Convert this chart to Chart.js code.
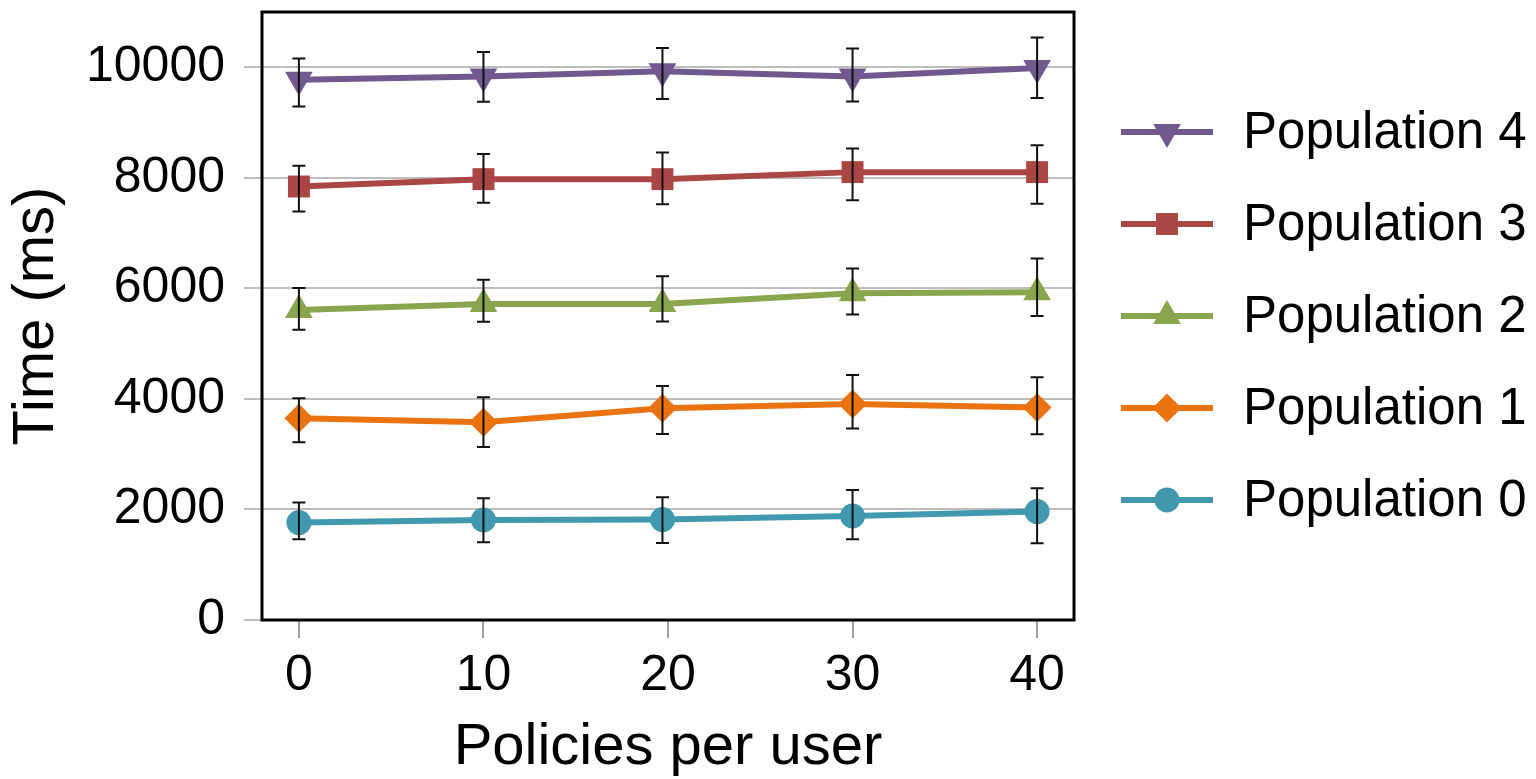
<!DOCTYPE html>
<html>
<head>
<meta charset="utf-8">
<script src="https://cdn.jsdelivr.net/npm/chart.js@4/dist/chart.umd.min.js"></script>
<style>
  html, body { margin: 0; padding: 0; background: #ffffff; }
  #c { display: block; }
</style>
</head>
<body>
<canvas id="c" width="1536" height="779"></canvas>
<script>
// ---- data ----
const policies = [0, 10, 19.7, 30, 40];
const xTickValues = [0, 10, 20, 30, 40];
const yTickValues = [0, 2000, 4000, 6000, 8000, 10000];
const seriesNames = ['Population 0', 'Population 1', 'Population 2', 'Population 3', 'Population 4'];

const pop0 = [1762, 1810, 1816, 1882, 1961];
const pop0Hi = [2124, 2202, 2220, 2353, 2384];
const pop0Lo = [1460, 1406, 1394, 1460, 1388];

const pop1 = [3650, 3578, 3831, 3910, 3843];
const pop1Hi = [4012, 4030, 4235, 4434, 4392];
const pop1Lo = [3216, 3131, 3366, 3463, 3361];

const pop2 = [5610, 5719, 5719, 5913, 5930];
const pop2Hi = [6005, 6154, 6221, 6359, 6540];
const pop2Lo = [5249, 5394, 5400, 5526, 5502];

const pop3 = [7843, 7976, 7976, 8103, 8103];
const pop3Hi = [8217, 8429, 8458, 8530, 8591];
const pop3Lo = [7390, 7548, 7524, 7596, 7529];

const pop4 = [9774, 9834, 9928, 9834, 9985];
const pop4Hi = [10159, 10275, 10347, 10341, 10539];
const pop4Lo = [9291, 9376, 9424, 9382, 9442];

// ---- styles ----
const colors = ['#4198AF', '#EA7210', '#89A54E', '#AA4643', '#71588F'];
const styles = [
  { pointStyle: 'circle', radius: 12.5, rotation: 0 },
  { pointStyle: 'rectRot', radius: 14.5, rotation: 0 },
  { pointStyle: 'triangle', radius: 16, rotation: 0 },
  { pointStyle: 'rect', radius: 15.5, rotation: 0 },
  { pointStyle: 'triangle', radius: 16, rotation: 180 }
];
const means = [pop0, pop1, pop2, pop3, pop4];
const highs = [pop0Hi, pop1Hi, pop2Hi, pop3Hi, pop4Hi];
const lows = [pop0Lo, pop1Lo, pop2Lo, pop3Lo, pop4Lo];

const FONT = 'Arial, "Liberation Sans", Helvetica, sans-serif';

const datasets = means.map((vals, k) => ({
  label: seriesNames[k],
  data: vals.map((v, i) => ({ x: policies[i], y: v })),
  borderColor: colors[k],
  backgroundColor: colors[k],
  borderWidth: 6,
  tension: 0,
  pointStyle: styles[k].pointStyle,
  pointRadius: styles[k].radius,
  pointRotation: styles[k].rotation,
  pointBackgroundColor: colors[k],
  pointBorderColor: colors[k],
  pointBorderWidth: 0,
  pointHoverRadius: styles[k].radius,
  fill: false,
  clip: false
}));

const errorBars = {
  id: 'errorBars',
  afterDatasetsDraw(chart) {
    const ctx = chart.ctx;
    const xs = chart.scales.x, ys = chart.scales.y;
    ctx.save();
    ctx.strokeStyle = '#111111';
    ctx.lineWidth = 2;
    const cap = 6.5;
    means.forEach((vals, k) => {
      vals.forEach((v, i) => {
        const px = xs.getPixelForValue(policies[i]);
        const pHi = ys.getPixelForValue(highs[k][i]);
        const pLo = ys.getPixelForValue(lows[k][i]);
        ctx.beginPath();
        ctx.moveTo(px, pHi); ctx.lineTo(px, pLo);
        ctx.moveTo(px - cap, pHi); ctx.lineTo(px + cap, pHi);
        ctx.moveTo(px - cap, pLo); ctx.lineTo(px + cap, pLo);
        ctx.stroke();
      });
    });
    ctx.restore();
  }
};

const frame = {
  id: 'frame',
  afterDraw(chart) {
    const { ctx, chartArea: a } = chart;
    ctx.save();
    ctx.strokeStyle = '#000000';
    ctx.lineWidth = 3;
    ctx.strokeRect(a.left, a.top, a.right - a.left, a.bottom - a.top);
    ctx.restore();
  }
};

const sideLegend = {
  id: 'sideLegend',
  afterDraw(chart) {
    const ctx = chart.ctx;
    ctx.save();
    const x0 = 1121, x1 = 1213, xm = 1167, tx = 1243;
    const yTop = 132, step = 92;
    for (let j = 0; j < 5; j++) {
      const k = 4 - j;
      const y = yTop + j * step;
      ctx.strokeStyle = colors[k];
      ctx.lineWidth = 6;
      ctx.beginPath();
      ctx.moveTo(x0, y); ctx.lineTo(x1, y);
      ctx.stroke();
      ctx.fillStyle = colors[k];
      ctx.strokeStyle = colors[k];
      Chart.helpers.drawPoint(ctx, {
        pointStyle: styles[k].pointStyle,
        radius: styles[k].radius,
        rotation: styles[k].rotation,
        borderWidth: 0
      }, xm, y);
      ctx.fillStyle = '#000000';
      ctx.font = '51px ' + FONT;
      ctx.textAlign = 'left';
      ctx.textBaseline = 'alphabetic';
      ctx.fillText(seriesNames[k], tx, y + 16);
    }
    ctx.restore();
  }
};

new Chart(document.getElementById('c'), {
  type: 'line',
  data: { datasets },
  options: {
    responsive: false,
    animation: false,
    devicePixelRatio: 1,
    layout: { autoPadding: false, padding: { left: 0, top: 12, right: 462, bottom: 0 } },
    plugins: {
      legend: { display: false },
      tooltip: { enabled: false },
      title: { display: false }
    },
    scales: {
      x: {
        type: 'linear',
        min: -2,
        max: 42,
        afterBuildTicks: (s) => { s.ticks = xTickValues.map(v => ({ value: v })); },
        afterFit: (s) => { s.height = 159; s.paddingLeft = 0; s.paddingRight = 0; s.paddingTop = 0; s.paddingBottom = 0; },
        border: { display: false },
        grid: { drawOnChartArea: false, drawTicks: true, tickLength: 18, color: '#A0A0A0', lineWidth: 2 },
        ticks: { color: '#000000', font: { family: FONT, size: 50, lineHeight: 1.2 }, padding: 8, maxRotation: 0, autoSkip: false,
                 callback: (v) => String(v) },
        title: { display: true, text: 'Policies per user', color: '#000000', font: { family: FONT, size: 58, lineHeight: 1 }, padding: { top: 0, bottom: 2 } }
      },
      y: {
        type: 'linear',
        min: 0,
        max: 11000,
        afterBuildTicks: (s) => { s.ticks = yTickValues.map(v => ({ value: v })); },
        afterFit: (s) => { s.width = 262; s.paddingTop = 0; s.paddingBottom = 0; s.paddingLeft = 0; s.paddingRight = 0; },
        border: { display: false },
        grid: { drawOnChartArea: true, drawTicks: true, tickLength: 18, color: '#BDBDBD', lineWidth: 2 },
        ticks: { color: '#000000', font: { family: FONT, size: 50, lineHeight: 1.2 }, padding: 19, autoSkip: false,
                 callback: (v) => String(v) },
        title: { display: true, text: 'Time (ms)', color: '#000000', font: { family: FONT, size: 58, lineHeight: 1 }, padding: { top: 8, bottom: 0 } }
      }
    }
  },
  plugins: [errorBars, frame, sideLegend]
});
</script>
</body>
</html>
